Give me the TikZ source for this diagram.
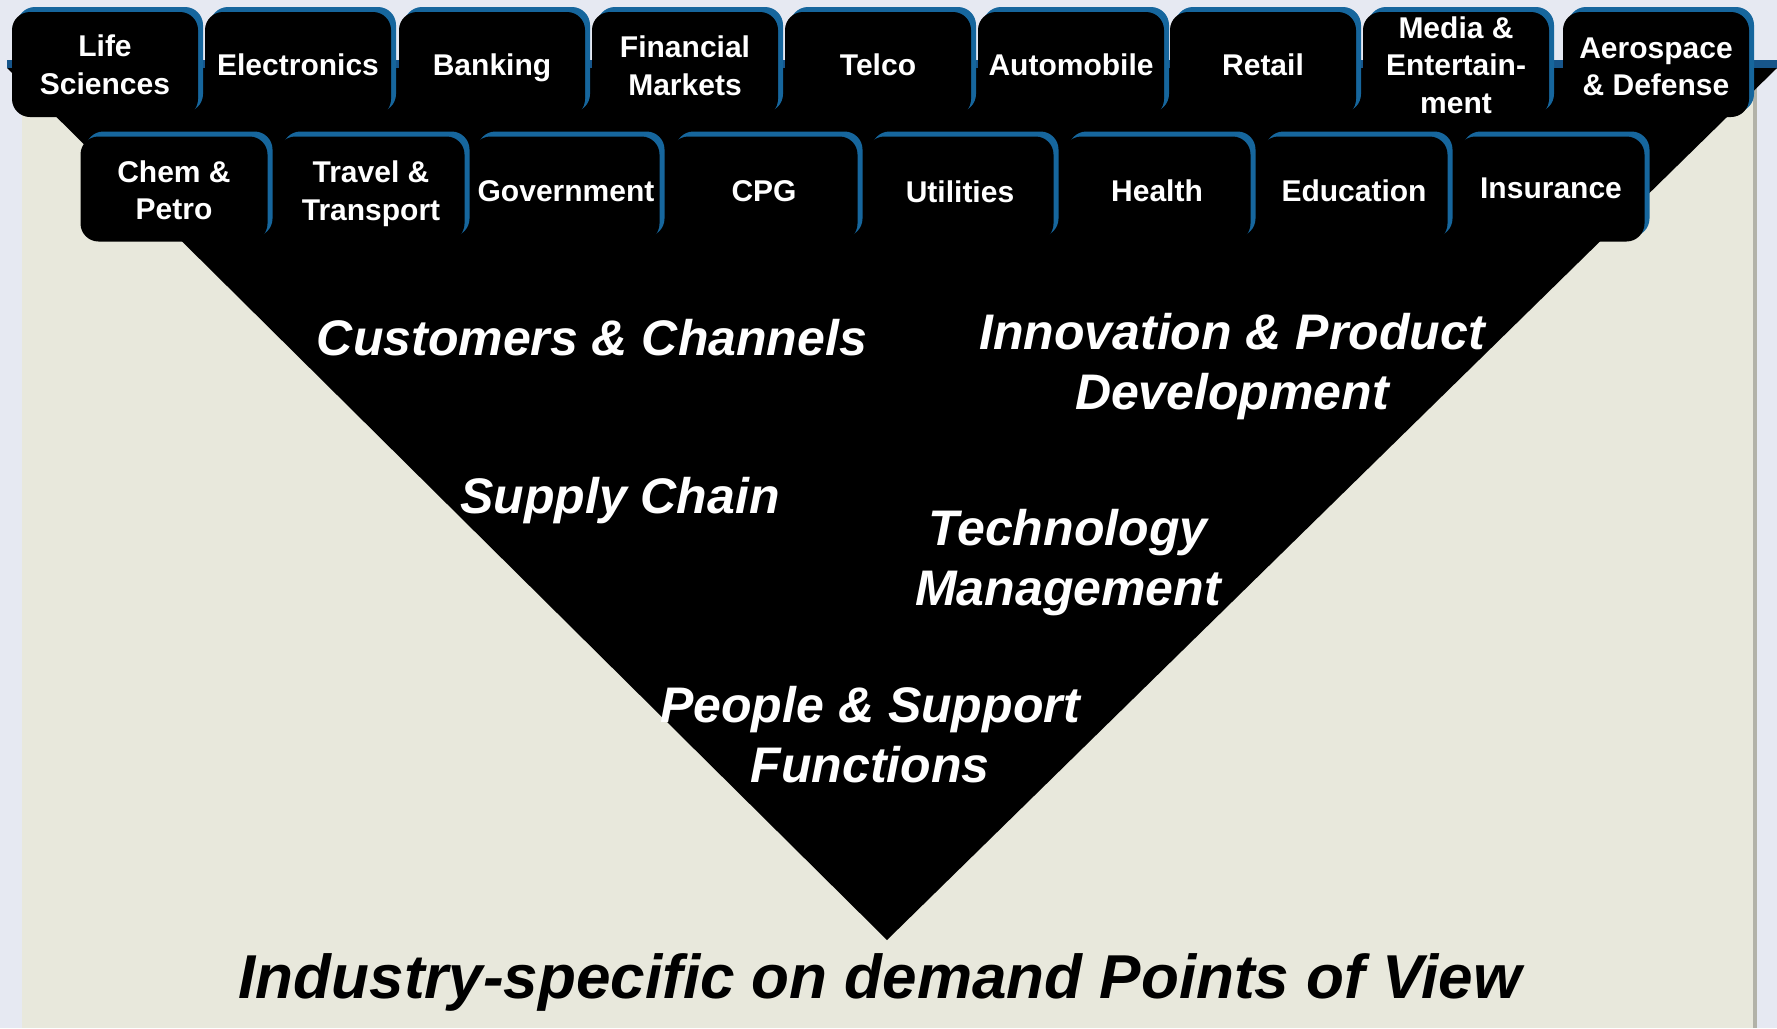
\documentclass[tikz,border=0pt]{standalone}
\usepackage{fontspec}
\setmainfont{Liberation Sans}
\usetikzlibrary{shadows}
\definecolor{bgcol}{HTML}{E6E9F2}
\definecolor{panelcol}{HTML}{E8E8DC}
\definecolor{paneledge}{HTML}{B2B2A8}
\definecolor{tabblue}{HTML}{16669D}
\definecolor{barblue}{HTML}{17558A}
\newcommand\tabfont{\bfseries\fontsize{30}{37.5}\selectfont}
\newcommand\midfont{\bfseries\itshape\fontsize{50}{60}\selectfont}
\newcommand\botfont{\bfseries\itshape\fontsize{62}{70}\selectfont}
\tikzset{
  tabbox/.style={rectangle, rounded corners=18pt, fill=black,
    minimum width=186pt, minimum height=105pt, inner sep=0pt,
    copy shadow={shadow xshift=5pt, shadow yshift=5pt, fill=tabblue, draw=none}},
  tabboxb/.style={tabbox, minimum width=187pt},
  tabtext/.style={text=white, font=\tabfont, align=center, inner sep=0pt},
  midlabel/.style={text=white, font=\midfont, align=center, inner sep=0pt},
  botlabel/.style={text=black, font=\botfont, align=center, inner sep=0pt}
}
\begin{document}
\begin{tikzpicture}[x=1pt,y=-1pt]
\useasboundingbox (0,0) rectangle (1777,1028);
% background
\fill[bgcol] (0,0) rectangle (1777,1028);
% panel
\fill[paneledge] (22,68) rectangle (1757,1028);
\fill[panelcol] (22,68) rectangle (1753,1028);
% top bar
\fill[barblue] (7,60) rectangle (1777,68);
% inverted triangle
\coordinate (tl) at (7,68);
\coordinate (tr) at (1777,68);
\coordinate (apex) at (887,940);
\fill[black] (tl) -- (tr) -- (apex) -- cycle;
% row 1 tabs
\node[tabbox] (t1) at (105,64.5) {};
\node[tabbox] (t2) at (298,64.5) {};
\node[tabbox] (t3) at (492,64.5) {};
\node[tabbox] (t4) at (685,64.5) {};
\node[tabbox] (t5) at (878,64.5) {};
\node[tabbox] (t6) at (1071,64.5) {};
\node[tabbox] (t7) at (1263,64.5) {};
\node[tabbox] (t8) at (1456,64.5) {};
\node[tabbox] (t9) at (1656,64.5) {};
\node[tabtext] (t1l) at ([yshift=-0.5pt]t1.center) {Life\\Sciences};
\node[tabtext] (t2l) at (t2.center) {Electronics};
\node[tabtext] (t3l) at ([yshift=-3.4pt]t3.center) {Banking};
\node[tabtext] (t4l) at ([yshift=-1.2pt]t4.center) {Financial\\Markets};
\node[tabtext] (t5l) at (t5.center) {Telco};
\node[tabtext] (t6l) at (t6.center) {Automobile};
\node[tabtext] (t7l) at (t7.center) {Retail};
\node[tabtext] (t8l) at ([yshift=-0.5pt]t8.center) {Media \&\\Entertain-\\ment};
\node[tabtext] (t9l) at ([yshift=-2.3pt]t9.center) {Aerospace\\\& Defense};
% row 2 tabs
\node[tabboxb] (s1) at (174,189) {};
\node[tabboxb] (s2) at (371,189) {};
\node[tabboxb] (s3) at (566,189) {};
\node[tabboxb] (s4) at (764,189) {};
\node[tabboxb] (s5) at (960,189) {};
\node[tabboxb] (s6) at (1157,189) {};
\node[tabboxb] (s7) at (1354,189) {};
\node[tabboxb] (s8) at (1551,189) {};
\node[tabtext] (s1l) at ([yshift=-1.2pt]s1.center) {Chem \&\\Petro};
\node[tabtext] (s2l) at ([yshift=-4.7pt]s2.center) {Travel \&\\Transport};
\node[tabtext] (s3l) at ([yshift=-2.4pt]s3.center) {Government};
\node[tabtext] (s4l) at ([yshift=-2.4pt]s4.center) {CPG};
\node[tabtext] (s5l) at ([yshift=-2.4pt]s5.center) {Utilities};
\node[tabtext] (s6l) at ([yshift=-1.3pt]s6.center) {Health};
\node[tabtext] (s7l) at ([yshift=-1.3pt]s7.center) {Education};
\node[tabtext] (s8l) at ([yshift=1pt]s8.center) {Insurance};
% middle labels
\node[midlabel] (cc) at (592,338) {Customers \& Channels};
\node[midlabel] (ip) at (1232,366.5) {Innovation \& Product\\Development};
\node[midlabel] (sc) at (620,500.5) {Supply Chain};
\node[midlabel] (tm) at (1068,562.5) {Technology\\Management};
\node[midlabel] (ps) at (870,735) {People \& Support\\Functions};
% bottom label
\node[botlabel] (pov) at (880,982.5) {Industry-specific on demand Points of View};
\end{tikzpicture}
\end{document}
